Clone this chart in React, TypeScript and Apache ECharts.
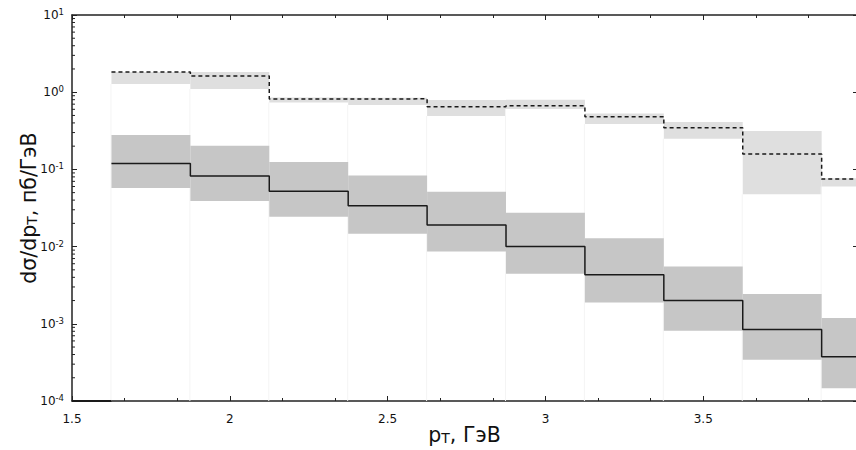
import React, { useEffect, useRef } from "react";
import * as echarts from "echarts";

// Bin edges in p_T (GeV)
const binEdges = [1.625, 1.875, 2.125, 2.375, 2.625, 2.875, 3.125, 3.375, 3.625, 3.875, 4.125];
// Upper curve (dashed) and its light band
const upperValues = [1.83, 1.62, 0.816, 0.82, 0.649, 0.668, 0.482, 0.347, 0.158, 0.075];
const upperHigh = [1.83, 1.82, 0.856, 0.85, 0.792, 0.8, 0.531, 0.411, 0.314, 0.077];
const upperLow = [1.28, 1.1, 0.738, 0.683, 0.492, 0.605, 0.387, 0.25, 0.0475, 0.06];
// Lower curve (solid) and its darker band
const lowerValues = [0.119, 0.082, 0.052, 0.0339, 0.019, 0.01, 0.00432, 0.00201, 0.000846, 0.000375];
const lowerHigh = [0.279, 0.203, 0.125, 0.0836, 0.0514, 0.0275, 0.0128, 0.00554, 0.00243, 0.00119];
const lowerLow = [0.0574, 0.039, 0.0244, 0.0147, 0.00867, 0.00446, 0.00189, 0.000814, 0.000343, 0.000146];
// Leading zero segment of the lower curve (drawn at the axis floor)
const lowerLead = [[1.5, 1e-4], [1.625, 1e-4]];

const decades = [1e-4, 1e-3, 1e-2, 1e-1, 1];
const minorMultipliers = [2, 3, 4, 5, 6, 7, 8, 9];

const X_MIN = 1.5;
const X_MAX = 3.987;
const Y_MIN = 1e-4;
const Y_MAX = 10;

export default function App() {
  const ref = useRef<HTMLDivElement>(null);
  useEffect(() => {
    if (!ref.current) return;
    const chart = echarts.init(ref.current, null, { renderer: "svg" });

    const stepData = (vals: number[]) => {
      const d: number[][] = vals.map((v, i) => [binEdges[i], v]);
      d.push([binEdges[vals.length], vals[vals.length - 1]]);
      return d;
    };
    const bandData = (lo: number[], hi: number[]) =>
      lo.map((l, i) => [binEdges[i], binEdges[i + 1], l, hi[i]]);

    const minorTicks: number[][] = [];
    decades.forEach((d) => minorMultipliers.forEach((m) => minorTicks.push([X_MIN, d * m])));

    const bandRender = (color: string, seam: boolean) => (params: any, api: any) => {
      const x0 = api.value(0);
      const x1 = api.value(1);
      const lo = api.value(2);
      const hi = api.value(3);
      const p0 = api.coord([x0, hi]);
      const p1 = api.coord([x1, lo]);
      const cs = params.coordSys;
      const rect = echarts.graphic.clipRectByRect(
        { x: p0[0], y: p0[1], width: p1[0] - p0[0], height: p1[1] - p0[1] },
        { x: cs.x, y: cs.y, width: cs.width, height: cs.height }
      );
      const children: any[] = [];
      if (seam) {
        const b = api.coord([x0, Y_MIN]);
        children.push({
          type: "line",
          shape: { x1: p0[0] - 0.5, y1: p1[1], x2: p0[0] - 0.5, y2: b[1] },
          style: { stroke: "#f4f4f4", lineWidth: 1 },
        });
      }
      if (rect) {
        children.push({ type: "rect", shape: rect, style: { fill: color } });
      }
      return { type: "group", children };
    };

    const labelRich = {
      b: { fontSize: 12, fontFamily: "DejaVu Sans", color: "#111", lineHeight: 15 },
      s: { fontSize: 8.5, fontFamily: "DejaVu Sans", color: "#111", verticalAlign: "top", padding: [0, 0, 4, 0] },
    };
    const nameRich = {
      n: { fontSize: 20.5, fontFamily: "DejaVu Sans", color: "#111", lineHeight: 21 },
      s: { fontSize: 14, fontFamily: "DejaVu Sans", color: "#111", verticalAlign: "bottom", lineHeight: 15 },
    };

    const option: any = {
      animation: false,
      backgroundColor: "#fff",
      grid: { left: 72, right: -1, top: 15, bottom: 49, outerBoundsMode: "none", containLabel: false },
      xAxis: [
        {
          type: "value",
          min: X_MIN,
          max: X_MAX,
          interval: 0.5,
          position: "bottom",
          name: "{n|p}{s|T}{n|, ГэВ}",
          nameLocation: "middle",
          nameGap: 23,
          nameMoveOverlap: false,
          nameTextStyle: { rich: nameRich },
          axisLine: { show: true, onZero: false, lineStyle: { color: "#222", width: 1.5 } },
          axisTick: { show: true, inside: true, length: 5, lineStyle: { color: "#222", width: 1 } },
          minorTick: { show: true, splitNumber: 3, length: 3, lineStyle: { color: "#222", width: 1 } },
          axisLabel: {
            show: true,
            margin: 12,
            fontSize: 12,
            fontFamily: "DejaVu Sans",
            color: "#111",
            showMaxLabel: false,
            formatter: (v: number) => String(v),
          },
          splitLine: { show: false },
        },
        {
          type: "value",
          min: X_MIN,
          max: X_MAX,
          interval: 0.5,
          position: "top",
          axisLine: { show: true, onZero: false, lineStyle: { color: "#222", width: 1.5 } },
          axisTick: { show: true, inside: true, length: 5, lineStyle: { color: "#222", width: 1 } },
          minorTick: { show: true, splitNumber: 3, length: 3, lineStyle: { color: "#222", width: 1 } },
          axisLabel: { show: false },
          splitLine: { show: false },
        },
      ],
      yAxis: [
        {
          type: "log",
          logBase: 10,
          min: Y_MIN,
          max: Y_MAX,
          position: "left",
          name: "{n|dσ/dp}{s|T}{n|, пб/ГэВ}",
          nameLocation: "middle",
          nameRotate: 90,
          nameGap: 33,
          nameMoveOverlap: false,
          nameTextStyle: { rich: nameRich },
          axisLine: { show: true, onZero: false, lineStyle: { color: "#222", width: 1.5 } },
          axisTick: { show: true, inside: true, length: 5, lineStyle: { color: "#222", width: 1 } },
          axisLabel: {
            show: true,
            margin: 8,
            formatter: (v: number) => {
              const e = Math.round(Math.log10(v));
              return `{b|10}{s|${e}}`;
            },
            rich: labelRich,
          },
          splitLine: { show: false },
        },
        {
          type: "log",
          logBase: 10,
          min: Y_MIN,
          max: Y_MAX,
          position: "right",
          axisLine: { show: true, onZero: false, lineStyle: { color: "#222", width: 1.5 } },
          axisTick: { show: true, inside: true, length: 4, lineStyle: { color: "#222", width: 1 } },
          axisLabel: { show: false },
          splitLine: { show: false },
        },
      ],
      series: [
        {
          type: "custom",
          name: "upperBand",
          xAxisIndex: 0,
          yAxisIndex: 0,
          data: bandData(upperLow, upperHigh),
          encode: { x: [0, 1], y: [2, 3] },
          renderItem: bandRender("#dfdfdf", true),
          z: 1,
        },
        {
          type: "custom",
          name: "lowerBand",
          xAxisIndex: 0,
          yAxisIndex: 0,
          data: bandData(lowerLow, lowerHigh),
          encode: { x: [0, 1], y: [2, 3] },
          renderItem: bandRender("#c6c6c6", false),
          z: 2,
        },
        {
          type: "line",
          name: "upper",
          step: "end",
          data: stepData(upperValues),
          symbol: "none",
          lineStyle: { color: "#1a1a1a", width: 1.5, type: [4, 3] },
          z: 5,
        },
        {
          type: "line",
          name: "lower",
          step: "end",
          data: stepData(lowerValues),
          symbol: "none",
          lineStyle: { color: "#1a1a1a", width: 1.5 },
          z: 5,
        },
        {
          type: "line",
          name: "lowerLead",
          data: lowerLead,
          symbol: "none",
          lineStyle: { color: "#1a1a1a", width: 2 },
          z: 6,
        },
        {
          type: "custom",
          name: "yMinorTicks",
          data: minorTicks,
          encode: { x: 0, y: 1 },
          renderItem: (params: any, api: any) => {
            const p = api.coord([api.value(0), api.value(1)]);
            return {
              type: "line",
              shape: { x1: p[0], y1: p[1], x2: p[0] + 3, y2: p[1] },
              style: { stroke: "#222", lineWidth: 1 },
            };
          },
          z: 7,
          silent: true,
        },
      ],
    };
    chart.setOption(option);
    return () => chart.dispose();
  }, []);
  return <div ref={ref} style={{ width: 856, height: 450, position: "absolute", left: 0, top: 0 }} />;
}
